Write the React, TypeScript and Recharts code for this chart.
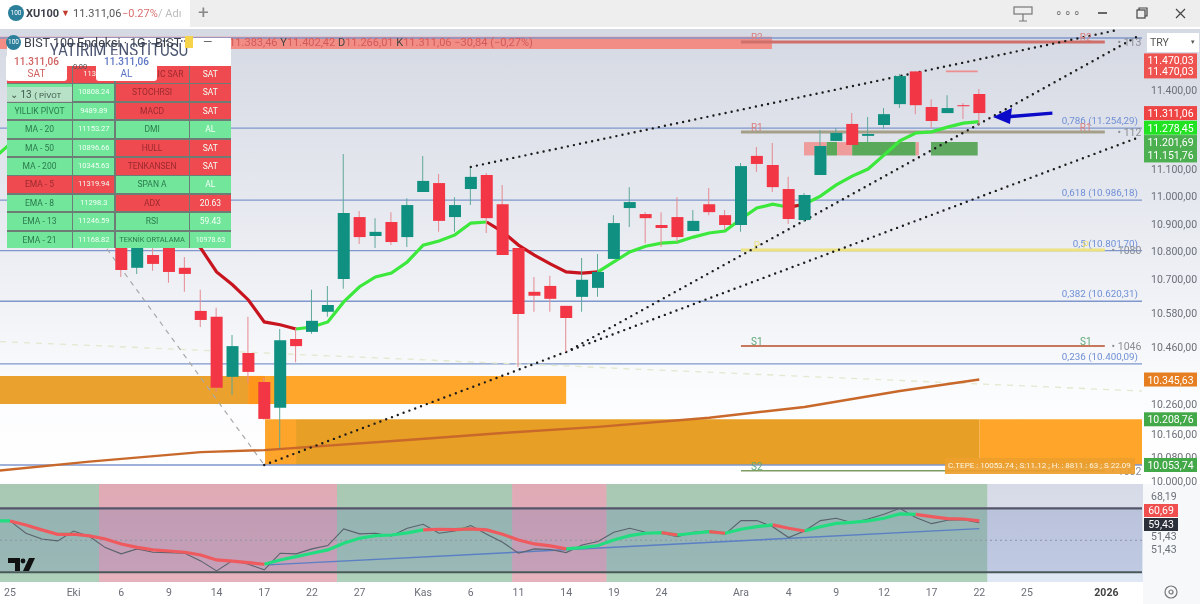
import React from "react";
import {
  ComposedChart, Bar, Line, Cell, XAxis, YAxis, ReferenceArea, ReferenceLine, ReferenceDot,
} from "recharts";

const indices = Array.from({ length: 63 }, (_, i) => i - 1);
const firstCandle = 7;
const opens = [10848,10740,10786,10848,10740,10586,10565,10355,10438,10337,10248,10487,10512,10583,10700,10924,10855,10906,10851,11016,11049,10924,11027,11079,10971,10811,10654,10675,10604,10636,10668,10772,10957,10935,10895,10924,10873,10971,10931,10895,11150,11116,11027,10913,11079,11206,11270,11225,11266,11345,11470,11334,11311,11341,11383.46];
const highs = [10870,10877,10884,10877,10779,10661,10597,10501,10565,10351,10522,10526,10661,10675,11157,10946,10920,10942,10993,11150,11083,10997,11105,11086,11042,10811,10707,10711,10604,10775,10790,10931,11034,10942,10942,10997,10950,11031,10950,11124,11183,11198,11072,11012,11247,11255,11311,11296,11330,11460,11470,11364,11379,11349,11402.42];
const lows = [10707,10718,10729,10686,10654,10529,10303,10292,10334,10207,10111,10406,10505,10565,10665,10826,10811,10822,10815,11016,10870,10870,10968,10866,10786,10389,10583,10583,10441,10583,10636,10772,10888,10829,10815,10833,10873,10931,10877,10870,11090,11016,10899,10906,11079,11206,11191,11202,11251,11330,11307,11255,11311,11289,11266.01];
const closes = [10732,10848,10754,10725,10718,10554,10317,10462,10372,10210,10483,10462,10551,10607,10939,10851,10870,10833,10968,11057,10910,10968,11072,10920,10786,10575,10640,10629,10561,10697,10725,10902,10979,10920,10884,10851,10910,10942,10895,11112,11120,11034,10917,11005,11187,11236,11191,11232,11307,11452,11341,11281,11330,11337,11311.06];
const ema = [11142,11195,11210,11202,11179,11153,11124,11090,11053,11016,10968,10920,10870,10811,10725,10679,10625,10547,10537,10522,10529,10547,10618,10672,10707,10721,10761,10822,10837,10859,10902,10906,10870,10822,10786,10754,10725,10721,10725,10761,10797,10818,10829,10833,10851,10866,10873,10917,10957,10971,10960,10971,11001,11042,11075,11101,11153,11206,11236,11240,11258,11273,11278.45];
const emaDownRanges = [[3, 18], [30, 37], [49, 50]];
const ma200Points: [number, number][] = [[-1,10033],[5,10065],[12,10097],[16,10104],[25,10138],[31,10162],[37,10183],[44,10214],[50,10251],[56,10306],[61,10345.63]];

const rsi = [62.1,62.1,54.4,50.8,49.6,55.8,52.3,45.4,41.5,44.6,42.5,42.3,41.9,37.1,30.8,37.3,35,31.5,41.9,41.5,44.6,46.7,57.1,54,54.4,52.7,57.5,60,54.4,55.8,59.2,53.75,48.75,41.9,44.6,44.2,42.3,47.1,49.2,55,57.5,55,54.4,52.3,55,55.8,53.75,62.3,62.3,58.5,51.7,55.8,62.3,63.75,61,63.3,66.25,70,64.2,60.4,62.5,62.9,61];
const rsiMa = [62.1,62.1,59.6,56.5,53.75,53.75,52.7,50.8,47.7,45.6,44,43.3,42.5,40.8,37.7,36.9,36,35,37.7,39.8,41.9,44,48.1,51.25,52.9,53.3,54.6,56.5,56.9,56.7,57.1,56.5,53.75,50.2,47.7,46.5,44.6,45.4,46.7,50.2,52.9,54.4,54.8,53.3,54.4,55.4,54.4,56.9,58.5,59.6,57.5,55.8,58.5,60.6,61.25,62.1,63.75,66.5,66.25,64.8,63.5,63.3,62.1];
const rsiDownRanges = [[0,3],[4,16],[26,28],[29,35],[41,42],[44,45],[48,50],[57,61]];

const inRange = (i: number, ranges: number[][]) => ranges.some(([a, b]) => i >= a && i <= b);
const insideRange = (i: number, ranges: number[][]) => ranges.some(([a, b]) => i > a && i < b);

const rows = indices.map((idx, k) => {
  const c = idx - firstCandle;
  const has = c >= 0 && c < opens.length;
  const ma = ma200Points.find((p) => p[0] === idx);
  return {
    idx,
    wick: has ? [lows[c], highs[c]] : null,
    body: has ? [Math.min(opens[c], closes[c]), Math.max(opens[c], closes[c])] : null,
    up: has ? closes[c] >= opens[c] : false,
    emaUp: insideRange(idx, emaDownRanges) ? null : ema[k],
    emaDown: inRange(idx, emaDownRanges) ? ema[k] : null,
    ma200: ma ? ma[1] : null,
  };
});
const rsiRows = indices.map((idx, k) => ({
  idx,
  rsi: rsi[k],
  maUp: insideRange(idx, rsiDownRanges) ? null : rsiMa[k],
  maDown: inRange(idx, rsiDownRanges) ? rsiMa[k] : null,
}));

const FONT = "Roboto, sans-serif";
const X_MIN = -0.63;
const X_MAX = 71.24;
const PRICE_MIN = 10000;
const PRICE_MAX = 11634;

const priceTicks = [11400, 11100, 11000, 10900, 10800, 10700, 10580, 10460, 10260, 10160, 10080, 10000];
const priceTickLabels = ["11.400,00","11.100,00","11.000,00","10.900,00","10.800,00","10.700,00","10.580,00","10.460,00","10.260,00","10.160,00","10.080,00","10.000,00"];
const priceTags = [
  { v: 11470.04, label: "11.470,03", fill: "#ef5350", dy: -11 },
  { v: 11470.03, label: "11.470,03", fill: "#ef5350", dy: 0 },
  { v: 11311.06, label: "11.311,06", fill: "#ef4444", dy: 0 },
  { v: 11278.45, label: "11.278,45", fill: "#22e322", dy: 6 },
  { v: 11201.69, label: "11.201,69", fill: "#4caf50", dy: 0 },
  { v: 11151.76, label: "11.151,76", fill: "#4caf50", dy: 0 },
  { v: 10345.63, label: "10.345,63", fill: "#e67e22", dy: 0 },
  { v: 10208.76, label: "10.208,76", fill: "#43a848", dy: 0 },
  { v: 10053.74, label: "10.053,74", fill: "#43a848", dy: 0 },
];

const fibs = [
  { v: 11599, label: "" },
  { v: 11254.29, label: "0,786 (11.254,29)" },
  { v: 10986.18, label: "0,618 (10.986,18)" },
  { v: 10801.7, label: "0,5 (10.801,70)" },
  { v: 10620.31, label: "0,382 (10.620,31)" },
  { v: 10400.09, label: "0,236 (10.400,09)" },
  { v: 10053.74, label: "" },
];
const pivots = [
  { v: 11583, color: "#cf6f6a", name: "R2", nameColor: "#d98080", width: 3 },
  { v: 11240, color: "#a39f88", name: "R1", nameColor: "#d98080", width: 3 },
  { v: 10804, color: "#ece27e", name: "P", nameColor: "#ecdf7a", width: 3 },
  { v: 10462, color: "#c8775c", name: "S1", nameColor: "#5fa878", width: 2 },
  { v: 10034, color: "#7f9c62", name: "S2", nameColor: "#5fa878", width: 1.5 },
];
const pivotStart = 46;
const pivotEnd = 68.9;
const pivotEdgeLabels = ["• 113", "• 112", "• 1080", "• 1046", "• 1002"];

const zones = [
  { x1: X_MIN, x2: 14.98, y1: 10261, y2: 10358, fill: "#eaa12e" },
  { x1: 14.98, x2: 16.05, y1: 10261, y2: 10358, fill: "#ff961c" },
  { x1: 16.05, x2: 35, y1: 10261, y2: 10358, fill: "#ffa62b" },
  { x1: 16.05, x2: 18, y1: 10053.74, y2: 10208.76, fill: "#fda52a" },
  { x1: 18, x2: 61, y1: 10053.74, y2: 10208.76, fill: "#e89f25" },
  { x1: 61, x2: X_MAX, y1: 10053.74, y2: 10208.76, fill: "#fea52a" },
  { x1: X_MIN, x2: 47.95, y1: 11556, y2: 11604, fill: "#f28d86" },
  { x1: 49.97, x2: 51.4, y1: 11151.76, y2: 11201.69, fill: "#ee9c9c" },
  { x1: 51.4, x2: 52.05, y1: 11151.76, y2: 11201.69, fill: "#5aa85a" },
  { x1: 52.05, x2: 53, y1: 11151.76, y2: 11201.69, fill: "#ee9c9c" },
  { x1: 53, x2: 57, y1: 11151.76, y2: 11201.69, fill: "#5aa85a" },
  { x1: 57, x2: 57.2, y1: 11151.76, y2: 11201.69, fill: "#ee9c9c" },
  { x1: 57.96, x2: 60.9, y1: 11151.76, y2: 11201.69, fill: "#5fa85f" },
];

const trendLines = [
  [[16, 10053.74], [71.1, 11221]],
  [[35, 10441], [71.1, 11610]],
  [[29, 11109], [69.7, 11630]],
];

const dateTicks = [0, 4, 7, 10, 13, 16, 19, 22, 26, 29, 32, 35, 38, 41, 46, 49, 52, 55, 58, 61, 64, 69];
const dateLabels = ["25","Eki","6","9","14","17","22","27","Kas","6","11","14","19","24","Ara","4","9","12","17","22","25","2026"];

const rsiBands = [
  { x1: X_MIN, x2: 5.6, fill: "rgba(90,170,90,0.36)" },
  { x1: 5.6, x2: 20.58, fill: "rgba(240,85,95,0.36)" },
  { x1: 20.58, x2: 31.6, fill: "rgba(90,170,90,0.36)" },
  { x1: 31.6, x2: 37.54, fill: "rgba(240,85,95,0.36)" },
  { x1: 37.54, x2: 61.5, fill: "rgba(90,170,90,0.36)" },
];
const rsiSideLabels = [
  { t: "68,19", y: 497 }, { t: "51,43", y: 537 }, { t: "51,43", y: 550 },
];
const rsiSideTags = [
  { t: "60,69", y: 504, bg: "#ef4f4f", h: 13 },
  { t: "59,43", y: 518, bg: "#2b2f3a", h: 13 },
];

const tableLeft = ["", "", "YILLIK PİVOT", "MA - 20", "MA - 50", "MA - 200", "EMA - 5", "EMA - 8", "EMA - 13", "EMA - 21"];
const tableValues = ["11350", "10808.24", "9489.89", "11153.27", "10896.66", "10345.63", "11319.94", "11298.3", "11246.59", "11168.82"];
const tableIndicators = ["PARABOLIC SAR", "STOCHRSI", "MACD", "DMI", "HULL", "TENKANSEN", "SPAN A", "ADX", "RSI", "TEKNİK ORTALAMA"];
const tableSignals = ["SAT", "SAT", "SAT", "AL", "SAT", "SAT", "AL", "20.63", "59.43", "10978.63"];
const leftSell = [true, false, false, false, false, false, true, false, false, false];
const rightSell = [true, true, true, false, true, true, false, true, false, false];

const PriceTick = (props: any) => {
  const { y, payload } = props;
  const tag = priceTags.find((t) => t.v === payload.value);
  if (tag) {
    const cy = y + tag.dy;
    return (
      <g>
        <rect x={1144} y={cy - 7} width={53} height={14} fill={tag.fill} />
        <text x={1170.5} y={cy + 4} textAnchor="middle" fill="#fff" fontSize={10.5} fontFamily={FONT}>{tag.label}</text>
      </g>
    );
  }
  const i = priceTicks.indexOf(payload.value);
  return <text x={1151} y={y + 4} fill="#6b6f78" fontSize={10.5} fontFamily={FONT}>{priceTickLabels[i]}</text>;
};

const DateTick = (props: any) => {
  const { x, y, payload } = props;
  const i = dateTicks.indexOf(payload.value);
  const bold = dateLabels[i] === "2026";
  return (
    <text x={x} y={y + 6} textAnchor="middle" fill={bold ? "#444" : "#6b6f78"} fontWeight={bold ? 700 : 400} fontSize={10.5} fontFamily={FONT}>
      {dateLabels[i]}
    </text>
  );
};

const ArrowHead = (props: any) => (
  <polygon points={`${props.cx},${props.cy} ${props.cx + 19},${props.cy - 9} ${props.cx + 17},${props.cy + 7}`} fill="#0a0ac8" />
);

const abs = (left: number, top: number, width: number, height: number, extra: any = {}) => ({
  position: "absolute" as const, left, top, width, height, ...extra,
});

function Table() {
  const GREEN = "#72e69b";
  const RED = "#ef4a4f";
  return (
    <div style={abs(7, 38, 224, 210, { background: "#fff" })}>
      <div style={{ position: "absolute", left: 0, top: 28, width: 224, display: "grid", gridTemplateColumns: "65px 41px 73px 41px", columnGap: 1.3, rowGap: 1.8, background: "#6d7c74", padding: 0 }}>
        {tableLeft.map((l, i) => {
          const a = leftSell[i] ? RED : GREEN;
          const b = rightSell[i] ? RED : GREEN;
          const base = { height: 16.6, fontSize: 8.5, lineHeight: "16.6px", textAlign: "center" as const, whiteSpace: "nowrap" as const, overflow: "hidden", fontFamily: FONT };
          return (
            <React.Fragment key={i}>
              <div style={{ ...base, background: a, color: leftSell[i] ? "#9b2a30" : "#2b7a4c" }}>{l}</div>
              <div style={{ ...base, background: a, color: "#f2fff6", fontSize: 7.5 }}>{tableValues[i]}</div>
              <div style={{ ...base, background: b, color: rightSell[i] ? "#9b2a30" : "#2b7a4c", fontSize: i === 9 ? 7.4 : 8.5 }}>{tableIndicators[i]}</div>
              <div style={{ ...base, background: b, color: "#f2fff6", fontSize: i === 9 ? 7 : 8.5 }}>{tableSignals[i]}</div>
            </React.Fragment>
          );
        })}
      </div>
      <div style={{ position: "absolute", left: 0, top: 3, width: 224, textAlign: "center", fontSize: 15, color: "#4b5570", fontFamily: FONT, whiteSpace: "nowrap", transform: "scaleY(1.2)" }}>YATIRIM ENSTİTÜSÜ</div>
    </div>
  );
}

export default function App() {
  return (
    <div style={abs(0, 0, 1200, 604, { background: "#fff", overflow: "hidden", fontFamily: FONT, filter: "blur(0.35px)" })}>
      <div style={abs(0, 29, 1200, 455, { background: "linear-gradient(#d5d9e3 0%, #e2e5ec 30%, #f1f3f7 62%, #fbfcfd 80%, #fff 100%)" })} />
      <div style={abs(0, 484, 1143, 98, { background: "linear-gradient(#d6dae6, #dfe8f4)" })} />
      <div style={abs(1143, 484, 57, 120, { background: "#f6f8fa" })} />

      <div style={abs(0, 0, 1200, 604)}>
        <ComposedChart width={1200} height={604} data={rows} margin={{ top: 29, right: 0, bottom: 123, left: 0 }}>
          <XAxis xAxisId="m" dataKey="idx" type="number" domain={[X_MIN, X_MAX]} allowDataOverflow hide />
          <XAxis xAxisId="w" dataKey="idx" type="number" domain={[X_MIN, X_MAX]} allowDataOverflow hide />
          <XAxis xAxisId="b" dataKey="idx" type="number" domain={[X_MIN, X_MAX]} allowDataOverflow hide />
          <YAxis
            orientation="right" width={58} scale="log" domain={[PRICE_MIN, PRICE_MAX]} allowDataOverflow
            ticks={[...priceTicks, ...priceTags.map((t) => t.v)]} interval={0} tick={<PriceTick />}
            tickLine={false} axisLine={false}
          />
          {zones.map((z, i) => (
            <ReferenceArea key={i} xAxisId="m" x1={z.x1} x2={z.x2} y1={z.y1} y2={z.y2} fill={z.fill} fillOpacity={1} stroke="none" ifOverflow="visible" />
          ))}
          {fibs.map((f, i) => (
            <ReferenceLine key={i} xAxisId="m" y={f.v} stroke="#7f97cd" strokeWidth={1.3}
              label={f.label ? { value: f.label, position: "insideBottomRight", fill: "#6f8fd6", fontSize: 9.8, fontFamily: FONT, offset: 4 } : undefined} />
          ))}
          <ReferenceLine xAxisId="m" stroke="#e3e8cf" strokeDasharray="6 6" strokeWidth={1.3} ifOverflow="visible"
            segment={[{ x: X_MIN, y: 10478 }, { x: X_MAX, y: 10306 }]} />
          <ReferenceLine xAxisId="m" stroke="#a8a8a8" strokeDasharray="5 5" strokeWidth={1.2} ifOverflow="visible"
            segment={[{ x: 6.1, y: 10808 }, { x: 16, y: 10053.74 }]} />
          {pivots.map((p, i) => (
            <ReferenceLine key={i} xAxisId="m" stroke={p.color} strokeWidth={p.width} ifOverflow="visible"
              segment={[{ x: pivotStart, y: p.v }, { x: pivotEnd, y: p.v }]} />
          ))}
          <ReferenceLine xAxisId="m" stroke="#ee8f8f" strokeWidth={1.6} ifOverflow="visible"
            segment={[{ x: 58.9, y: 11470.03 }, { x: 60.9, y: 11470.03 }]} />

          <Line xAxisId="m" dataKey="ma200" connectNulls stroke="#c8682a" strokeWidth={2.4} dot={false} isAnimationActive={false} />
          <Line xAxisId="m" dataKey="emaUp" stroke="#3be83b" strokeWidth={3.2} dot={false} isAnimationActive={false} />
          <Line xAxisId="m" dataKey="emaDown" stroke="#c8141e" strokeWidth={3.2} dot={false} isAnimationActive={false} />

          <Bar xAxisId="w" dataKey="wick" barSize={1} isAnimationActive={false} zIndex={450}>
            {rows.map((r, i) => <Cell key={i} fill={r.up ? "#5fa89a" : "#e58a92"} />)}
          </Bar>
          <Bar xAxisId="b" dataKey="body" barSize={12} isAnimationActive={false} zIndex={460}>
            {rows.map((r, i) => <Cell key={i} fill={r.up ? "#0f9080" : "#f23645"} />)}
          </Bar>

          {trendLines.map((t, i) => (
            <ReferenceLine key={i} xAxisId="m" stroke="#1c1c1c" strokeWidth={2.4} strokeDasharray="0 6.2" strokeLinecap="round" ifOverflow="visible"
              segment={[{ x: t[0][0], y: t[0][1] }, { x: t[1][0], y: t[1][1] }]} />
          ))}
          <ReferenceLine xAxisId="m" stroke="#0a0ac8" strokeWidth={3.4} ifOverflow="visible"
            segment={[{ x: 62.6, y: 11296 }, { x: 65.6, y: 11311 }]} />
          <ReferenceDot xAxisId="m" x={61.86} y={11296} r={1} shape={<ArrowHead />} ifOverflow="visible" />

          {pivots.map((p, i) => (
            <ReferenceDot key={"a" + i} xAxisId="m" x={47} y={p.v} r={0} fill="none" stroke="none" ifOverflow="visible"
              label={{ value: p.name, position: "top", fill: p.nameColor, fontSize: 10, fontFamily: FONT, offset: 1 }} />
          ))}
          {pivots.map((p, i) => (
            <ReferenceDot key={"b" + i} xAxisId="m" x={67.7} y={p.v} r={0} fill="none" stroke="none" ifOverflow="visible"
              label={{ value: p.name, position: "top", fill: p.nameColor, fontSize: 10, fontFamily: FONT, offset: 1 }} />
          ))}
          {pivots.map((p, i) => (
            <ReferenceDot key={"c" + i} xAxisId="m" x={71.2} y={p.v} r={0} fill="none" stroke="none" ifOverflow="visible"
              label={{ value: pivotEdgeLabels[i], position: "left", fill: "#8a8d94", fontSize: 10.5, fontFamily: FONT, offset: 0 }} />
          ))}
        </ComposedChart>
      </div>

      <div style={abs(0, 484, 1200, 120)}>
        <ComposedChart width={1200} height={120} data={rsiRows} margin={{ top: 0, right: 58, bottom: 0, left: 0 }}>
          <XAxis dataKey="idx" type="number" domain={[X_MIN, X_MAX]} allowDataOverflow ticks={dateTicks} interval={0}
            height={22} tick={<DateTick />} tickLine={false} axisLine={false} />
          <YAxis hide orientation="right" domain={[23.9, 85.2]} allowDataOverflow />
          {rsiBands.map((b, i) => (
            <ReferenceArea key={i} x1={b.x1} x2={b.x2} y1={23.9} y2={85.2} fill={b.fill} fillOpacity={1} stroke="none" ifOverflow="visible" />
          ))}
          <ReferenceArea x1={X_MIN} x2={X_MAX} y1={30} y2={70} fill="rgba(70,90,165,0.2)" fillOpacity={1} stroke="none" ifOverflow="visible" />
          <ReferenceLine y={50} stroke="#8a93a8" strokeDasharray="2 3" strokeWidth={1} />
          <ReferenceLine y={70} stroke="#55566a" strokeWidth={2.2} />
          <ReferenceLine y={30} stroke="#4a5858" strokeWidth={2.2} />
          <ReferenceLine stroke="#5b7fc4" strokeWidth={1.4} ifOverflow="visible"
            segment={[{ x: 16.2, y: 34.6 }, { x: 61, y: 57.3 }]} />
          <Line dataKey="rsi" stroke="#5a626c" strokeWidth={1.1} dot={false} isAnimationActive={false} />
          <Line dataKey="maUp" stroke="#22dd80" strokeWidth={3.2} dot={false} isAnimationActive={false} />
          <Line dataKey="maDown" stroke="#ee5a5e" strokeWidth={3.2} dot={false} isAnimationActive={false} />
        </ComposedChart>
      </div>

      {rsiSideLabels.map((l, i) => (
        <div key={i} style={abs(1151, l.y - 7, 40, 14, { fontSize: 10.5, lineHeight: "14px", color: "#6b6f78" })}>{l.t}</div>
      ))}
      {rsiSideTags.map((t, i) => (
        <div key={i} style={abs(1144, t.y, 34, t.h, { background: t.bg, color: "#fff", fontSize: 10.5, lineHeight: `${t.h}px`, textAlign: "center" })}>{t.t}</div>
      ))}
      <svg style={abs(8, 558, 27, 14)} viewBox="0 0 27 14">
        <path d="M0 0h12v13H7V5H0z" fill="#111" />
        <circle cx="15" cy="3" r="2.4" fill="#111" />
        <path d="M27 0l-6 13h-6l6-13z" fill="#111" />
      </svg>
      <svg style={abs(1162, 583, 18, 18)} viewBox="0 0 18 18">
        <circle cx="9" cy="9" r="6" fill="none" stroke="#777" strokeWidth="1.2" />
        <circle cx="9" cy="9" r="2" fill="none" stroke="#777" strokeWidth="1.2" />
      </svg>

      <div style={abs(945, 458, 190, 16, { background: "rgba(238,160,44,0.92)", color: "#fff4dc", fontSize: 8, lineHeight: "16px", whiteSpace: "nowrap", paddingLeft: 3, boxSizing: "border-box" })}>
        C.TEPE : 10053.74 ; S:11.12 ; H: : 8811 : 63 ; S 22.09
      </div>
      <div style={abs(1147, 33, 52, 19, { background: "#fff", fontSize: 10.5, lineHeight: "19px", color: "#555", paddingLeft: 3, boxSizing: "border-box" })}>
        TRY<span style={{ position: "absolute", right: 4, fontSize: 7 }}>▾</span>
      </div>

      <div style={abs(222, 36, 310, 14, { fontSize: 11, lineHeight: "14px", color: "#d25a5a", whiteSpace: "nowrap" })}>
        <span style={{ color: "#444" }}>A</span>11.383,46 <span style={{ color: "#444" }}>Y</span>11.402,42 <span style={{ color: "#444" }}>D</span>11.266,01 <span style={{ color: "#444" }}>K</span>11.311,06 −30,84 (−0,27%)
      </div>
      <Table />
      <div style={abs(6, 35, 220, 16, { fontSize: 12.5, lineHeight: "16px", color: "#3a3f4a", whiteSpace: "nowrap" })}>
        <span style={{ display: "inline-block", width: 15, height: 15, borderRadius: 8, background: "#2b7f9a", color: "#fff", fontSize: 6.5, textAlign: "center", lineHeight: "15px", marginRight: 3, verticalAlign: "top" }}>100</span>
        BIST 100 Endeksi · 1G · BIST
      </div>
      <div style={abs(185, 36, 8, 12, { background: "#f5d34a" })} />
      <div style={abs(203, 36, 12, 12, { color: "#666", fontSize: 12, lineHeight: "12px" })}>—</div>
      <div style={abs(6, 55, 61, 25, { background: "#fff", borderRadius: 3, textAlign: "center", fontSize: 10, lineHeight: "12px", paddingTop: 1, color: "#d06060", fontWeight: 500 })}>
        11.311,06<br /><span style={{ fontWeight: 400 }}>SAT</span>
      </div>
      <div style={abs(96, 55, 61, 25, { background: "#fff", borderRadius: 3, textAlign: "center", fontSize: 10, lineHeight: "12px", paddingTop: 1, color: "#5b74c4", fontWeight: 500 })}>
        11.311,06<br /><span style={{ fontWeight: 400 }}>AL</span>
      </div>
      <div style={abs(73, 62, 22, 10, { fontSize: 7.5, lineHeight: "10px", color: "#555" })}>0,00</div>
      <div style={abs(7, 87, 65, 15, { fontSize: 10, lineHeight: "15px", color: "#3d5a4a", background: "rgba(200,225,210,0.8)", paddingLeft: 3, boxSizing: "border-box", whiteSpace: "nowrap" })}>
        ⌄ 13 <span style={{ fontSize: 8 }}>( PİVOT</span>
      </div>

      <div style={abs(0, 0, 1200, 29, { background: "#eeeeee", borderBottom: "2px solid #fff", boxSizing: "border-box" })} />
      <div style={abs(0, 0, 190, 27, { background: "#fff", whiteSpace: "nowrap", fontSize: 11, lineHeight: "27px", color: "#555" })}>
        <span style={{ position: "absolute", left: 8, top: 5, width: 16, height: 16, borderRadius: 8, background: "#2b7f9a", color: "#fff", fontSize: 6.5, lineHeight: "16px", textAlign: "center" }}>100</span>
        <span style={{ position: "absolute", left: 26, fontWeight: 700, color: "#3a3f4a" }}>XU100</span>
        <span style={{ position: "absolute", left: 61, color: "#c0392b", fontSize: 9 }}>▼</span>
        <span style={{ position: "absolute", left: 73 }}>11.311,06</span>
        <span style={{ position: "absolute", left: 122, color: "#d87070" }}>−0.27%</span>
        <span style={{ position: "absolute", left: 158, color: "#bbb" }}>/ Adı</span>
      </div>
      <div style={abs(198, 0, 14, 27, { fontSize: 19, lineHeight: "26px", color: "#888" })}>+</div>
      <svg style={abs(1012, 4, 24, 20)} viewBox="0 0 24 20">
        <rect x="2" y="3" width="18" height="7" fill="none" stroke="#777" strokeWidth="1.2" />
        <path d="M11 10v7M7 17h8" stroke="#777" strokeWidth="1.2" />
      </svg>
      <div style={abs(1055, 5, 20, 16, { fontSize: 12, lineHeight: "16px", color: "#777", letterSpacing: 1 })}>∘∘∘</div>
      <div style={abs(1098, 12, 9, 2, { background: "#666" })} />
      <svg style={abs(1136, 7, 12, 12)} viewBox="0 0 12 12">
        <rect x="1" y="3" width="8" height="8" fill="none" stroke="#444" strokeWidth="1.2" />
        <path d="M3 3V1h8v8H9" fill="none" stroke="#444" strokeWidth="1.2" />
      </svg>
      <svg style={abs(1175, 8, 11, 11)} viewBox="0 0 11 11">
        <path d="M1 1l9 9M10 1l-9 9" stroke="#444" strokeWidth="1.2" />
      </svg>
    </div>
  );
}
